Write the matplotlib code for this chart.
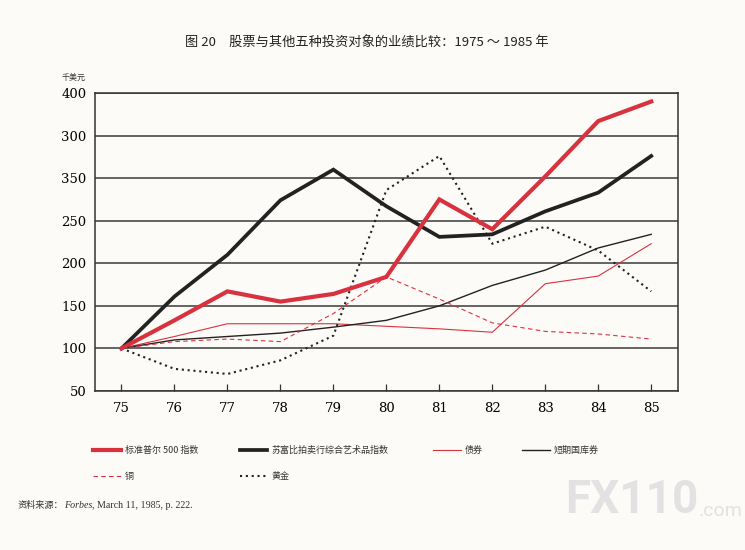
import matplotlib
matplotlib.use("Agg")
import matplotlib.pyplot as plt
from matplotlib.lines import Line2D

CJK = ["Noto Sans CJK SC", "DejaVu Sans"]
SERIF = "DejaVu Serif"

years = [75, 76, 77, 78, 79, 80, 81, 82, 83, 84, 85]
sp500 = [100, 133, 167, 155, 164, 184, 275, 240, 302, 367, 390]
sothebys = [100, 161, 210, 274, 310, 267, 231, 234, 261, 283, 326]
bonds = [100, 114, 129, 129, 129, 126, 123, 119, 176, 185, 223]
tbills = [100, 110, 114, 118, 125, 133, 150, 174, 192, 218, 234]
copper = [100, 108, 111, 108, 141, 184, 158, 130, 120, 117, 111]
gold = [100, 76, 70, 86, 115, 286, 326, 223, 243, 215, 167]

y_ticks = [50, 100, 150, 200, 250, 300, 350, 400]
# labels as printed in the original (300/350 swapped)
y_labels = ["50", "100", "150", "200", "250", "350", "300", "400"]

RED = "#d8323f"
BLACK = "#222222"
BG = "#fcfbf7"

fig = plt.figure(figsize=(7.45, 5.5), dpi=100, facecolor=BG)
W, H = 745.0, 550.0
ax = fig.add_axes([95 / W, 1 - 391 / H, (677.7 - 95) / W, (391 - 93) / H])
ax.set_facecolor(BG)

ax.plot(years, sothebys, color=BLACK, lw=2.7, solid_joinstyle="miter", zorder=4)
ax.plot(years, sp500, color=RED, lw=3.0, solid_joinstyle="miter", zorder=5)
ax.plot(years, bonds, color=RED, lw=0.8, zorder=3)
ax.plot(years, tbills, color=BLACK, lw=1.0, zorder=3)
ax.plot(years, copper, color=RED, lw=0.8, ls=(0, (4, 3)), zorder=3)
ax.plot(years, gold, color=BLACK, lw=1.5, ls=(0, (1, 1.8)), zorder=3)

ax.set_xlim(74.5, 85.5)
ax.set_ylim(50, 400)
ax.set_yticks(y_ticks)
ax.set_yticklabels(y_labels, fontfamily=SERIF, fontsize=9.5)
ax.set_xticks(years)
ax.set_xticklabels([str(y) for y in years], fontfamily=SERIF, fontsize=9.5)
ax.tick_params(axis="y", length=0, pad=6)
ax.tick_params(axis="x", direction="in", length=5, width=0.9, color="#333333", pad=8)
ax.yaxis.grid(True, color="#3a3a3a", lw=1.1)
ax.set_axisbelow(True)
for side in ["left", "right", "top", "bottom"]:
    ax.spines[side].set_color("#333333")
    ax.spines[side].set_linewidth(1.1)

fig.text(367 / W, 1 - 43 / H, "图 20　股票与其他五种投资对象的业绩比较：1975 ～ 1985 年",
         ha="center", va="center", fontsize=9.5, family=CJK, color="#222222")
fig.text(62 / W, 1 - 77 / H, "千美元", ha="left", va="center", fontsize=5.8,
         family=CJK, color="#333333")

# legend laid out like the printed key
legend_items = [
    (93, 121, 450, RED, 3.0, "-", "标准普尔 500 指数"),
    (240, 267, 450, BLACK, 2.7, "-", "苏富比拍卖行综合艺术品指数"),
    (433, 461, 450, RED, 0.8, "-", "债券"),
    (522, 550, 450, BLACK, 1.0, "-", "短期国库券"),
    (93, 121, 476, RED, 0.8, (0, (4, 3)), "铜"),
    (240, 267, 476, BLACK, 1.5, (0, (1, 1.8)), "黄金"),
]
for x0, x1, yy, c, lw, ls, label in legend_items:
    fig.add_artist(Line2D([x0 / W, x1 / W], [1 - yy / H, 1 - yy / H],
                          color=c, lw=lw, ls=ls, transform=fig.transFigure))
    fig.text((x1 + 4) / W, 1 - yy / H, label, ha="left", va="center",
             fontsize=6.5, family=CJK, color="#333333")

t1 = fig.text(18 / W, 1 - 505 / H, "资料来源：", ha="left", va="center",
              fontsize=6.6, family=CJK, color="#333333")
t2 = ax.annotate("Forbes", xy=(1, 0.5), xycoords=t1, ha="left", va="center",
                 fontsize=7.2, family="Liberation Serif", style="italic",
                 color="#333333", annotation_clip=False)
ax.annotate(", March 11, 1985, p. 222.", xy=(1, 0.5), xycoords=t2, ha="left",
            va="center", fontsize=7.2, family="Liberation Serif", color="#333333",
            annotation_clip=False)

# faint watermark
wm = fig.text(565 / W, 1 - 500 / H, "FX110", ha="left", va="center", fontsize=33,
              family="Roboto", weight="bold", color="#e2e2e2")
ax.annotate(".com", xy=(1, 0.25), xycoords=wm, ha="left", va="center", fontsize=14,
            family="Roboto", color="#e2e2e2", annotation_clip=False)

fig.savefig("out.png", dpi=100, facecolor=BG)
